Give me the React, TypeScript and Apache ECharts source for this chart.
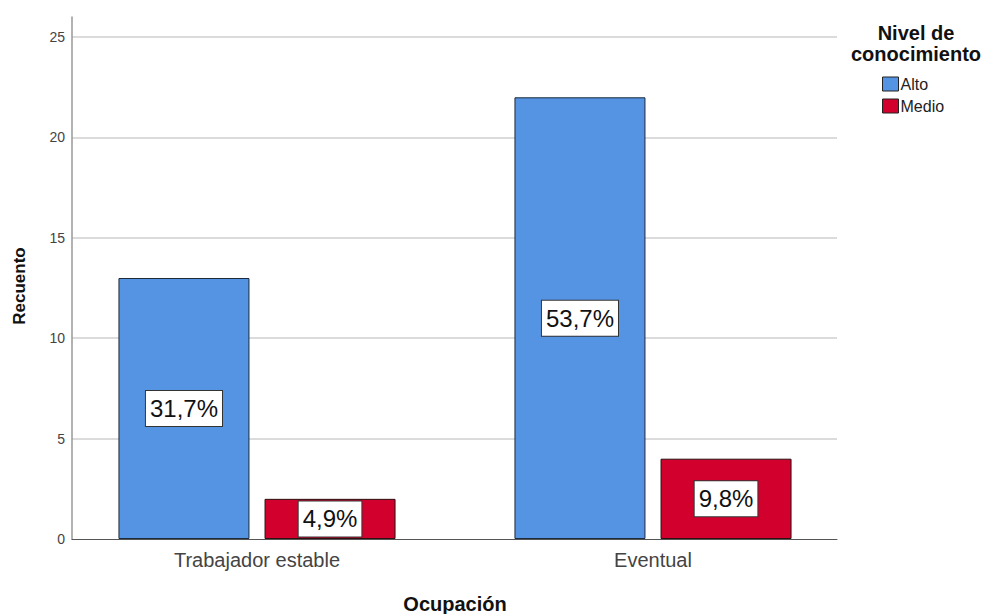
import React, { useEffect, useRef } from "react";
import * as echarts from "echarts";

// Recuento por ocupación y nivel de conocimiento
const categories = ["Trabajador estable", "Eventual"];
const seriesNames = ["Alto", "Medio"];
const altoValues = [13, 22];
const medioValues = [2, 4];
const altoPct = ["31,7%", "53,7%"];
const medioPct = ["4,9%", "9,8%"];
const yTicks = [0, 5, 10, 15, 20, 25];

const FONT = "'Liberation Sans', Arial, sans-serif";
const BLUE = "#5593E3";
const RED = "#D2002D";

export default function App() {
  const ref = useRef<HTMLDivElement>(null);

  useEffect(() => {
    if (!ref.current) return;
    const chart = echarts.init(ref.current, undefined, { renderer: "svg" });

    const pctLabel = (texts: string[]) => ({
      show: true,
      position: "inside" as const,
      formatter: (p: any) => texts[p.dataIndex],
      fontFamily: FONT,
      fontSize: 24,
      color: "#111",
      backgroundColor: "#fff",
      borderColor: "#333",
      borderWidth: 1,
      padding: [6, 4, 5, 4],
    });

    const yMax = 26;

    chart.setOption({
      animation: false,
      backgroundColor: "#fff",
      textStyle: { fontFamily: FONT },
      grid: [
        // frame: axis lines and grid lines
        { left: 72, right: 150, top: 17, bottom: 75 },
        // bars and category labels
        { left: 59, right: 136, top: 17, bottom: 75 },
      ],
      xAxis: [
        {
          type: "category",
          gridIndex: 0,
          data: categories,
          axisLine: { lineStyle: { color: "#555", width: 1 } },
          axisTick: { show: false },
          axisLabel: { show: false },
        },
        {
          type: "category",
          gridIndex: 1,
          data: categories,
          axisLine: { show: false },
          axisTick: { show: false },
          axisLabel: {
            fontFamily: FONT,
            fontSize: 20,
            color: "#444",
            margin: 11,
          },
        },
      ],
      yAxis: [
        {
          type: "value",
          gridIndex: 0,
          min: yTicks[0],
          max: yMax,
          interval: yTicks[1] - yTicks[0],
          axisLine: { show: true, lineStyle: { color: "#999", width: 1.5 } },
          axisTick: { show: false },
          axisLabel: {
            fontFamily: FONT,
            fontSize: 14,
            color: "#444",
            margin: 7,
            showMaxLabel: false,
          },
          splitLine: {
            show: true,
            showMaxLine: false,
            showMinLine: false,
            lineStyle: { color: "#cfcfcf", width: 1.5 },
          },
        },
        {
          type: "value",
          gridIndex: 1,
          min: yTicks[0],
          max: yMax,
          show: false,
          splitLine: { show: false },
        },
      ],
      legend: {
        orient: "vertical",
        left: 882,
        top: 76,
        padding: 0,
        itemWidth: 16,
        itemHeight: 14,
        itemGap: 6,
        icon: "rect",
        data: seriesNames,
        textStyle: { fontFamily: FONT, fontSize: 16, color: "#222", padding: [0, 0, 0, -3] },
        itemStyle: { borderColor: "#222", borderWidth: 1 },
      },
      graphic: [
        {
          type: "text",
          x: 916,
          y: 43,
          style: {
            text: "Nivel de\nconocimiento",
            align: "center",
            verticalAlign: "middle",
            fontFamily: FONT,
            fontSize: 20,
            fontWeight: "bold",
            lineHeight: 21,
            fill: "#111",
          },
        },
        {
          type: "text",
          x: 19,
          y: 286,
          rotation: Math.PI / 2,
          style: {
            text: "Recuento",
            align: "center",
            verticalAlign: "middle",
            fontFamily: FONT,
            fontSize: 17,
            fontWeight: "bold",
            fill: "#111",
          },
        },
        {
          type: "text",
          x: 455,
          y: 604,
          style: {
            text: "Ocupación",
            align: "center",
            verticalAlign: "middle",
            fontFamily: FONT,
            fontSize: 20,
            fontWeight: "bold",
            fill: "#111",
          },
        },
      ],
      series: [
        {
          name: seriesNames[0],
          type: "bar",
          xAxisIndex: 1,
          yAxisIndex: 1,
          data: altoValues,
          barWidth: 131,
          barGap: "11.5%",
          itemStyle: { color: BLUE, borderColor: "#1c2a3a", borderWidth: 1 },
          label: pctLabel(altoPct),
        },
        {
          name: seriesNames[1],
          type: "bar",
          xAxisIndex: 1,
          yAxisIndex: 1,
          data: medioValues,
          barWidth: 131,
          barGap: "11.5%",
          itemStyle: { color: RED, borderColor: "#2a1010", borderWidth: 1 },
          label: pctLabel(medioPct),
        },
      ],
    });

    return () => chart.dispose();
  }, []);

  return <div ref={ref} style={{ width: 987, height: 614, position: "absolute", left: 0, top: 0 }} />;
}
